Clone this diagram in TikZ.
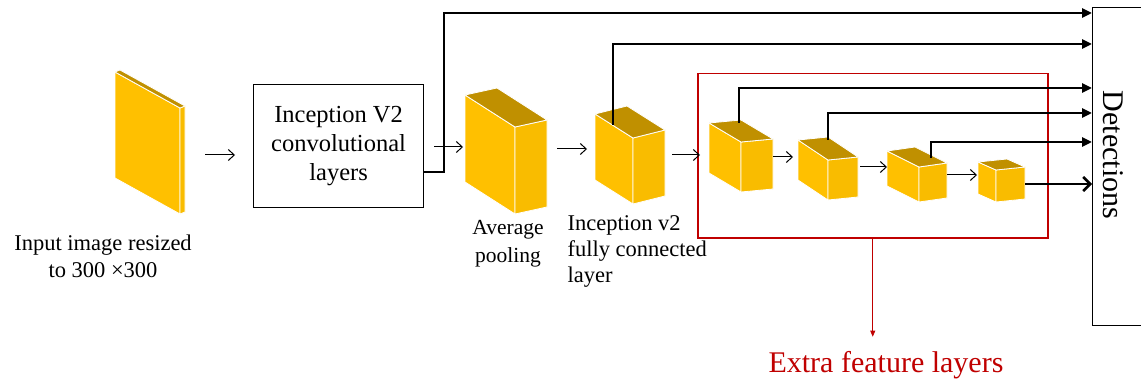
\documentclass[tikz,border=0pt]{standalone}
\usepackage{fontspec}
\setmainfont{Liberation Serif}
\usetikzlibrary{calc,arrows.meta}
\definecolor{cfront}{HTML}{FFC000}
\definecolor{cright}{HTML}{F9BC00}
\definecolor{ctop}{HTML}{C09000}
\definecolor{cred}{HTML}{C00000}
\newcommand{\cubebox}[6]{%
  \path (#2,#3) coordinate (#1-A) ++(#4) coordinate (#1-D) ++(#5) coordinate (#1-C) ++(0,#6) coordinate (#1-Cb);
  \path (#1-A) ++(#5) coordinate (#1-W);
  \path (#1-A) ++(0,#6) coordinate (#1-Ab);
  \path (#1-D) ++(0,#6) coordinate (#1-Db);
  \filldraw[face,fill=cfront] (#1-A) -- (#1-D) -- (#1-Db) -- (#1-Ab) -- cycle;
  \filldraw[face,fill=cright] (#1-D) -- (#1-C) -- (#1-Cb) -- (#1-Db) -- cycle;
  \filldraw[face,fill=ctop] (#1-A) -- (#1-D) -- (#1-C) -- (#1-W) -- cycle;
}
\tikzset{
  face/.style={draw=white, line width=0.8pt, line join=round},
  flow/.style={line width=1pt, -{Straight Barb[length=6pt,width=11pt]}},
  bus/.style={line width=2.6pt, -{Triangle[length=10pt,width=9pt]}},
  busend/.style={line width=2.6pt, -{Straight Barb[length=7pt,width=14pt]}},
  box/.style={draw, line width=1.2pt, inner sep=0pt, anchor=north west},
}
\begin{document}
\begin{tikzpicture}[x=1pt,y=-1pt]
\useasboundingbox (0,0) rectangle (1141,385);
\clip (0,0) rectangle (1141,385);
\fill[white] (0,0) rectangle (1141,385);

% y levels
\coordinate (L1) at (0,13);
\coordinate (L2) at (0,44);
\coordinate (L3) at (0,88);
\coordinate (L4) at (0,113);
\coordinate (L5) at (0,142);
\coordinate (L6) at (0,184);
\coordinate (y147) at (0,147);
\coordinate (y149) at (0,149);
\coordinate (y155) at (0,155);
\coordinate (y157) at (0,157);
\coordinate (y167) at (0,167);
\coordinate (y175) at (0,175);
\coordinate (j1) at (444,172);

% red frame
\node[box, draw=cred, line width=1.5pt, minimum width=350, minimum height=164] (redbox) at (697,73) {};

% boxes
\node[box, minimum width=170, minimum height=123, align=center,
      font=\fontsize{24.5}{29}\selectfont] (inc) at (253,84)
      {Inception V2\\convolutional\\layers};
\node[box, minimum width=70, minimum height=318] (det) at (1092,7) {};
\node[rotate=-90, font=\fontsize{30}{34}\selectfont] (dettext) at (1113,155) {Detections};

\cubebox{in}{115}{72}{65,36}{5,-2}{106}
\cubebox{avg}{465}{95}{50,32}{32,-7}{87}
\cubebox{fc}{595}{114}{38,24}{32,-8}{66}
\cubebox{b1}{709}{123}{32,19}{32,-3}{50}
\cubebox{b2}{798}{140}{30,20}{30,-3}{40}
\cubebox{b3}{887}{151}{32,16}{28,-4}{35}
\cubebox{b4}{978}{162}{18,8}{29,-3}{32}

% labels
\node[align=center, font=\fontsize{22.5}{27}\selectfont] (inlab) at (103,256)
  {Input image resized\\to 300 ×300};
\node[align=center, font=\fontsize{21.5}{28}\selectfont] (avglab) at (508,244)
  {Average\\pooling};
\node[align=left, anchor=west, font=\fontsize{22.5}{26}\selectfont] (fclab) at (564,251)
  {Inception v2\\fully connected\\layer};
\node[font=\fontsize{30}{34}\selectfont, text=cred] (xtra) at (886,365) {Extra feature layers};

% thin flow arrows
\draw[flow, shorten <=20pt, shorten >=18pt] (in-C |- y155) -- (inc.west |- y155);
\draw[flow, shorten <=10pt, shorten >=2pt] (inc.east |- y147) -- (avg-A |- y147);
\draw[flow, shorten <=10pt, shorten >=8pt] (avg-C |- y149) -- (fc-A |- y149);
\draw[flow, shorten <=7pt, shorten >=9pt] (fc-C |- y155) -- (b1-A |- y155);
\draw[flow, shorten >=5pt] (b1-C |- y157) -- (b2-A |- y157);
\draw[flow, shorten <=2pt] (b2-C |- y167) -- (b3-A |- y167);
\draw[flow, shorten >=1pt] (b3-C |- y175) -- (b4-A |- y175);

% detection buses
\draw[bus] (inc.east |- j1) -- (j1) |- (det.west |- L1);
\draw[bus] ([shift={(18,11)}]fc-A) |- (det.west |- L2);
\draw[bus] ([shift={(30,0)}]b1-A) |- (det.west |- L3);
\draw[bus] ([shift={(30,0)}]b2-A) |- (det.west |- L4);
\draw[bus] ([shift={(44,7)}]b3-A) |- (det.west |- L5);
\draw[busend] (b4-C |- L6) -- (det.west |- L6);

% extra feature arrow
\draw[cred, line width=0.8pt, -{Triangle[length=6pt,width=5pt]}, shorten >=11pt]
  (redbox.south) -- (redbox.south |- xtra.north);
\end{tikzpicture}
\end{document}
